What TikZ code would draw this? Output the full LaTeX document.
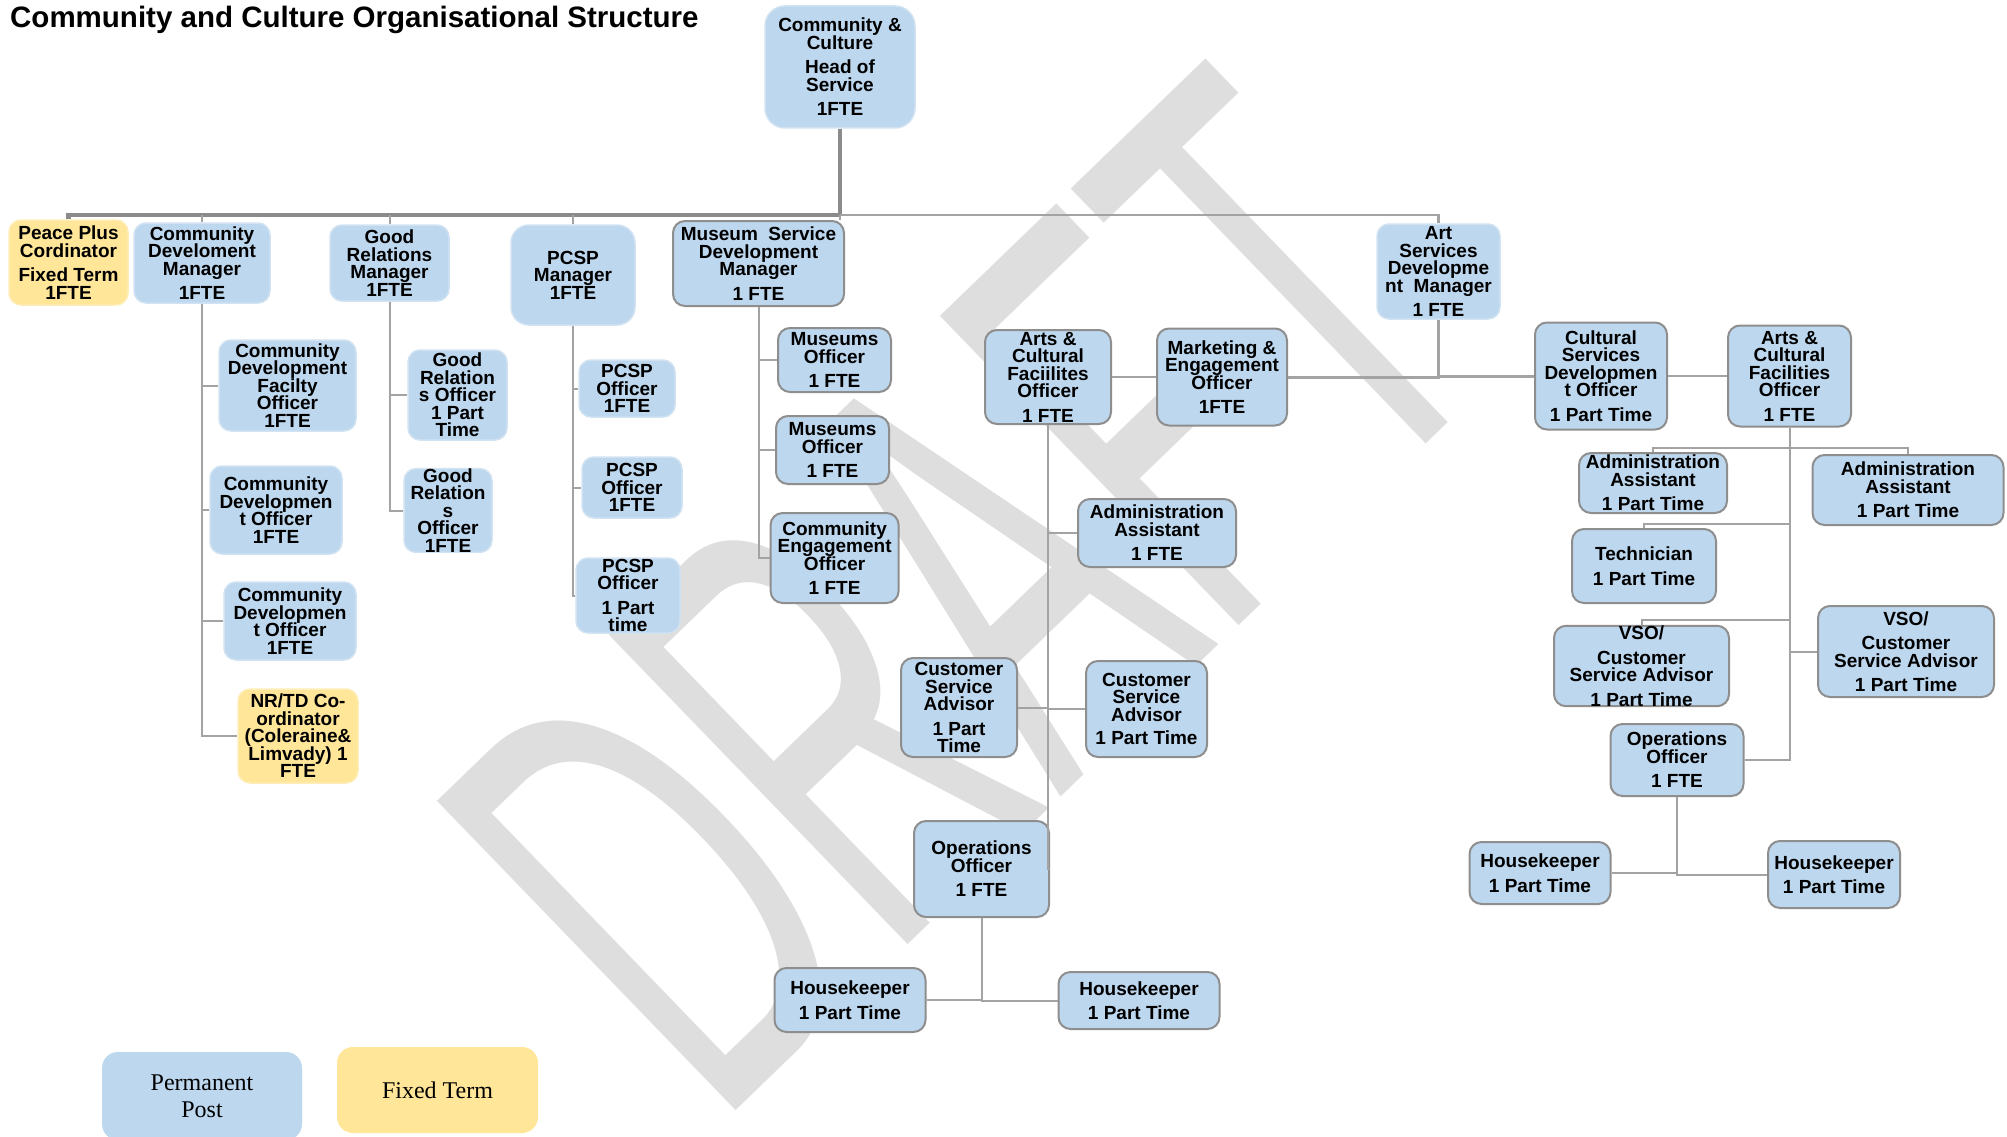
\documentclass[tikz,border=0pt]{standalone}
\usepackage{fontspec}
\usepackage{tikz}
\usetikzlibrary{positioning}
\newfontfamily\boxfont{Liberation Sans}
\newfontfamily\legendfont{Liberation Serif}
\definecolor{postblue}{HTML}{BDD7EE}
\definecolor{fixedyellow}{HTML}{FFE699}
\definecolor{edgegrey}{HTML}{8E8E8E}
\definecolor{linegrey}{HTML}{A3A3A3}
\definecolor{draftgrey}{HTML}{DEDEDE}
\AtBeginDocument{\lineskiplimit=-30pt\relax}

\begin{document}
\begin{tikzpicture}[x=1pt, y=-1pt,
    box/.style={rectangle, rounded corners=12pt, align=center, inner sep=0pt, text=black,
        font=\boxfont\bfseries\fontsize{19}{17.5}\selectfont},
    wh/.style 2 args={minimum width=#1, minimum height=#2},
    post/.style={box, fill=postblue, draw=postblue!70!white, line width=1.5pt},
    postg/.style={box, fill=postblue, draw=edgegrey, line width=2pt},
    fixed/.style={box, fill=fixedyellow, draw=fixedyellow!70!white, line width=1.5pt},
    legend/.style={rectangle, rounded corners=16pt, inner sep=0pt, align=center,
        font=\legendfont\fontsize{24}{27}\selectfont},
    conn/.style={draw=linegrey, line width=2pt},
    bus/.style={draw=linegrey!85!black, line width=4.5pt}]

    \useasboundingbox (0,0) rectangle (2007,1137);
    \fill[white] (0,0) rectangle (2007,1137);

    % Filigrane
    \node[rotate=44, anchor=base west, inner sep=0pt, text=draftgrey,
        font=\boxfont\fontsize{625}{630}\selectfont] (draft) at (716,1130) {\scalebox{0.53}[1]{DRAFT}};

    \node[anchor=base west, inner sep=0pt, font=\boxfont\bfseries\fontsize{29.5}{32}\selectfont]
        (title) at (10,28) {Community and Culture Organisational Structure};

    % Direction et responsables
    \node[post, wh={150pt}{122pt}, rounded corners=20pt] (head) at (840,67)
        {Community \&\\Culture\\[7pt]Head of\\Service\\[7pt]1FTE};
    \node[fixed, wh={119pt}{85pt}] (peace) at (68.5,262.5) {Peace Plus\\Cordinator\\[7pt]Fixed Term\\1FTE};
    \node[post, wh={136pt}{80pt}] (cdm) at (202,263) {Community\\Develoment\\Manager\\[7pt]1FTE};
    \node[post, wh={119pt}{76pt}] (grm) at (389.5,263) {Good\\Relations\\Manager\\1FTE};
    \node[post, wh={124pt}{100pt}, rounded corners=18pt] (pcspm) at (573,275) {PCSP\\Manager\\1FTE};
    \node[postg, wh={171pt}{85pt}] (museum) at (758.5,263.5) {Museum~~Service\\Development\\Manager\\[7pt]1 FTE};
    \node[post, wh={123pt}{95pt}] (artm) at (1438.5,271.5) {Art\\Services\\Developme\\nt~~Manager\\[7pt]1 FTE};

    % Développement communautaire
    \node[post, wh={137pt}{91pt}] (cdf) at (287.5,385.5) {Community\\Development\\Facilty\\Officer\\1FTE};
    \node[post, wh={132pt}{88pt}] (cdo1) at (276,510) {Community\\Developmen\\t Officer\\1FTE};
    \node[post, wh={132pt}{78pt}] (cdo2) at (290,621) {Community\\Developmen\\t Officer\\1FTE};
    \node[fixed, wh={120pt}{94pt}] (nrtd) at (298,736) {NR/TD Co-\\ordinator\\(Coleraine\&\\Limvady) 1\\FTE};

    % Good relations et PCSP
    \node[post, wh={99pt}{90pt}] (gro1) at (457.5,395) {Good\\Relation\\s Officer\\1 Part\\Time};
    \node[post, wh={88pt}{79pt}] (gro2) at (448,510.5) {Good\\Relation\\s\\Officer\\1FTE};
    \node[post, wh={96pt}{57pt}] (pcsp1) at (627,388.5) {PCSP\\Officer\\1FTE};
    \node[post, wh={100pt}{61pt}] (pcsp2) at (632,487.5) {PCSP\\Officer\\1FTE};
    \node[post, wh={104pt}{75pt}] (pcsp3) at (628,595.5) {PCSP\\Officer\\[7pt]1 Part\\time};

    % Musées
    \node[postg, wh={113pt}{64pt}] (mus1) at (834.5,360) {Museums\\Officer\\[7pt]1 FTE};
    \node[postg, wh={113pt}{68pt}] (mus2) at (832.5,450) {Museums\\Officer\\[7pt]1 FTE};
    \node[postg, wh={128pt}{90pt}] (ceo) at (834.6,558) {Community\\Engagement\\Officer\\[7pt]1 FTE};

    % Arts (milieu)
    \node[postg, wh={126pt}{94pt}] (acfm) at (1048,377) {Arts \&\\Cultural\\Faciilites\\Officer\\[7pt]1 FTE};
    \node[postg, wh={130pt}{97pt}] (mkt) at (1222,377) {Marketing \&\\Engagement\\Officer\\[7pt]1FTE};
    \node[postg, wh={158pt}{68pt}] (adm) at (1157,533) {Administration\\Assistant\\[7pt]1 FTE};
    \node[postg, wh={116pt}{99pt}] (csal) at (959,707.5) {Customer\\Service\\Advisor\\[7pt]1 Part\\Time};
    \node[postg, wh={121pt}{96pt}] (csar) at (1146.5,709) {Customer\\Service\\Advisor\\[6pt]1 Part Time};
    \node[postg, wh={135pt}{96pt}] (opsm) at (981.5,869) {Operations\\Officer\\[7pt]1 FTE};
    \node[postg, wh={151pt}{64pt}] (hkml) at (850,1000) {Housekeeper\\[7pt]1 Part Time};
    \node[postg, wh={161pt}{57pt}] (hkmr) at (1139,1000.5) {Housekeeper\\[7pt]1 Part Time};

    % Arts (droite)
    \node[postg, wh={132pt}{107pt}] (csdo) at (1601,376) {Cultural\\Services\\Developmen\\t Officer\\[7pt]1 Part Time};
    \node[postg, wh={123pt}{101pt}] (acfr) at (1789.5,376) {Arts \&\\Cultural\\Facilities\\Officer\\[7pt]1 FTE};
    \node[postg, wh={148pt}{60pt}] (adml) at (1653,483) {Administration\\Assistant\\[7pt]1 Part Time};
    \node[postg, wh={191pt}{70pt}] (admr) at (1908,490) {Administration\\Assistant\\[7pt]1 Part Time};
    \node[postg, wh={144pt}{74pt}] (tech) at (1644,566) {Technician\\[7pt]1 Part Time};
    \node[postg, wh={175pt}{80pt}] (vsol) at (1641.5,666) {VSO/\\[7pt]Customer\\Service Advisor\\[7pt]1 Part Time};
    \node[postg, wh={176pt}{91pt}] (vsor) at (1906,651.5) {VSO/\\[7pt]Customer\\Service Advisor\\[7pt]1 Part Time};
    \node[postg, wh={133pt}{72pt}] (opsr) at (1677,760) {Operations\\Officer\\[7pt]1 FTE};
    \node[postg, wh={141pt}{62pt}] (hkrl) at (1540,873) {Housekeeper\\[7pt]1 Part Time};
    \node[postg, wh={132pt}{67pt}] (hkrr) at (1834,874.5) {Housekeeper\\[7pt]1 Part Time};

    % Légende
    \node[legend, fill=postblue, wh={200pt}{88pt}] (perm) at (202,1096) {Permanent\\Post};
    \node[legend, fill=fixedyellow, wh={201pt}{86pt}] (fixt) at (437.5,1090) {Fixed Term};

    % Liaisons
    \coordinate (hub) at (840,215);
    \draw[bus] (head.south) -- (hub);
    \draw[bus] (peace.north) |- (hub);
    \foreach \mgr in {cdm,grm,pcspm}
        \draw[conn] (\mgr.north) -- (\mgr.north |- hub);
    \draw[conn] (hub) -- (museum.north -| hub);
    \draw[conn, line width=2.5pt] (hub) -| (artm.north);

    \foreach \kid in {cdf,cdo1,cdo2,nrtd}
        \draw[conn] (cdm.south) |- (\kid.west);
    \foreach \kid in {gro1,gro2}
        \draw[conn] (grm.south) |- (\kid.west);
    \foreach \kid in {pcsp1,pcsp2,pcsp3}
        \draw[conn] (pcspm.south) |- (\kid.west);
    \foreach \kid in {mus1,mus2,ceo}
        \draw[conn] (museum.south) |- (\kid.west);

    \draw[conn, line width=3pt] (mkt.east) -| (artm.south);
    \draw[conn, line width=3pt] (artm.south) |- (csdo.west);
    \draw[conn] (acfm.east) -- (mkt.west);
    \draw[conn] (csdo.east) -- (acfr.west);

    \draw[conn] (acfm.south) |- (adm.west);
    \draw[conn] (acfm.south) |- (csal.east);
    \draw[conn] (acfm.south) |- (csar.west);
    \draw[conn] (acfm.south) |- (opsm.east);
    \draw[conn] (opsm.south) |- (hkml.east);
    \draw[conn] (opsm.south) |- (hkmr.west);

    \coordinate (admjoin) at (1789.5,448);
    \coordinate (techjoin) at (1789.5,524);
    \coordinate (vsojoin) at (1789.5,620);
    \draw[conn] (acfr.south) |- (opsr.east);
    \draw[conn] (acfr.south) |- (vsor.west);
    \draw[conn] (adml.north) |- (admjoin) -| (admr.north);
    \draw[conn] (tech.north) |- (techjoin);
    \draw[conn] (vsol.north) |- (vsojoin);
    \draw[conn] (opsr.south) |- (hkrl.east);
    \draw[conn] (opsr.south) |- (hkrr.west);

\end{tikzpicture}
\end{document}
